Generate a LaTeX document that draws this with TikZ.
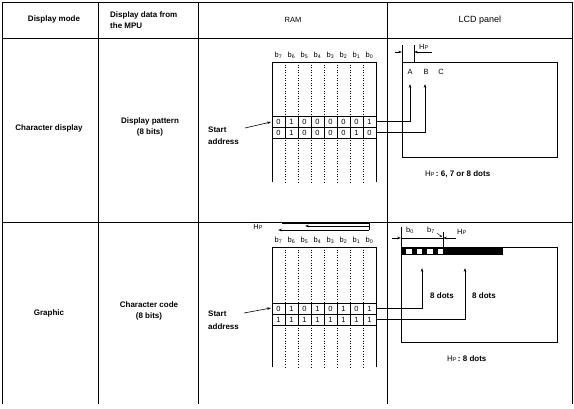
\documentclass[tikz,border=0pt]{standalone}
\usepackage{fontspec}
\setmainfont{Liberation Sans}
\usetikzlibrary{arrows.meta}
\newcommand{\hpsym}{H{\fontsize{5.5}{6}\selectfont P}}
\begin{document}
\begin{tikzpicture}[x=1pt,y=-1pt,
  tline/.style={line width=0.8pt},
  thinl/.style={line width=0.6pt},
  dotl/.style={line width=0.45pt, dash pattern=on 1pt off 1.6pt},
  lbl/.style={font=\fontsize{8}{11}\selectfont\bfseries, inner sep=0pt},
  reg/.style={font=\fontsize{7.5}{9}\selectfont, inner sep=0pt},
  dig/.style={font=\fontsize{7.5}{8}\selectfont, inner sep=0pt},
  arr/.style={-{Stealth[length=4pt,width=2.6pt]}, line width=0.6pt}]
\useasboundingbox (0,0) rectangle (574,408);
% table
\draw[tline] (2,2) -- (572,2);
\draw[tline] (2,38) -- (572,38);
\draw[tline] (2,222) -- (572,222);
\foreach \x in {2,98,198,387,572} \draw[tline] (\x,2) -- (\x,404);
% headers
\node[lbl] (h1) at (54,19) {Display mode};
\node[lbl, anchor=west, align=left] (h2) at (110,20) {Display data from\\the MPU};
\node[reg] (h3) at (293,20) {RAM};
\node[font=\fontsize{9}{11}\selectfont, inner sep=0pt] (h4) at (480,20) {LCD panel};
% column 1 and 2
\node[lbl] (m1) at (49,128) {Character display};
\node[lbl, align=center] (m2) at (150,127) {Display pattern\\(8 bits)};
\node[lbl] (g1) at (49,313) {Graphic};
\node[lbl, align=center] (g2) at (149,311) {Character code\\(8 bits)};
% Start address
\node[lbl, anchor=west, align=left, font=\fontsize{8}{12}\selectfont\bfseries] (s1) at (208,136) {Start\\address};
\node[lbl, anchor=west, align=left, font=\fontsize{8}{13}\selectfont\bfseries] (s2) at (208,320) {Start\\address};
% RAM grids
\foreach \top/\bot/\ra/\lab in {62/182/116/55, 247/367/303/240} {
  \draw[thinl] (272,\top) -- (376,\top);
  \draw[thinl] (272,\top) -- (272,\bot);
  \draw[thinl] (376,\top) -- (376,\bot);
  \foreach \k in {1,...,7} \draw[dotl] ({272+13*\k},\top) -- ({272+13*\k},\bot);
  \fill[white] (272,\ra) rectangle (376,{\ra+22});
  \draw[thinl] (272,\ra) rectangle (376,{\ra+22});
  \draw[thinl] (272,{\ra+11}) -- (376,{\ra+11});
  \foreach \k in {1,...,7} \draw[thinl] ({272+13*\k},\ra) -- ({272+13*\k},{\ra+22});
  \foreach \b [count=\i from 0] in {7,...,0}
    \node[reg] at ({272+13*\i+6.5},\lab) {b\textsubscript{\b}};
}
\foreach \d [count=\i from 0] in {0,1,0,0,0,0,0,1} \node[dig] at ({272+13*\i+6.5},121.5) {\d};
\foreach \d [count=\i from 0] in {0,1,0,0,0,0,1,0} \node[dig] at ({272+13*\i+6.5},132.5) {\d};
\foreach \d [count=\i from 0] in {0,1,0,1,0,1,0,1} \node[dig] at ({272+13*\i+6.5},308.5) {\d};
\foreach \d [count=\i from 0] in {1,1,1,1,1,1,1,1} \node[dig] at ({272+13*\i+6.5},319.5) {\d};
% start arrows
\coordinate (s1t) at (271,122);
\coordinate (s2t) at (271,308);
\draw[arr] (245,128) -- (s1t);
\draw[arr] (244,313) -- (s2t);
% LCD panels
\draw[thinl] (402,62) rectangle (557,157);
\draw[thinl] (401,247) rectangle (557,342);
\node[reg] (A) at (410,72) {A};
\node[reg] (B) at (426,72) {B};
\node[reg] (C) at (441,72) {C};
% connectors row 1
\coordinate (r1a) at (376,121.5);
\coordinate (r1b) at (376,132.5);
\coordinate (At) at (410,84);
\coordinate (Bt) at (425,84);
\draw[arr] (r1a) -| (At);
\draw[arr] (r1b) -| (Bt);
% Hp dimension row 1
\draw[thinl] (402,45) -- (402,62);
\draw[thinl] (414,45) -- (414,62);
\draw[arr] (395,52) -- (402,52);
\draw[arr] (432,52) -- (414,52);
\node[reg, anchor=south west] (hp1) at (419,50) {\hpsym};
\node[lbl, anchor=west] (hpt1) at (425,174) {{\mdseries\hpsym}\,:\ 6, 7 or 8 dots};
% Graphic row: Hp shift arrows
\node[reg] (hp2) at (258,227) {\hpsym};
\draw[thinl] (282,223) -- (369,223) -- (369,230);
\draw[arr] (369,230) -- (278,230);
\draw[arr] (369,226) -- (305,226);
% black bar
\fill (401,247) rectangle (503,255);
\foreach \k in {1,3,5,7} \fill[white] ({401+5.25*\k},248.6) rectangle ({401+5.25*(\k+1)},253.6);
% dimension row 2
\draw[thinl] (401,227) -- (401,247);
\draw[thinl] (443,232) -- (443,247);
\draw[arr] (392,238) -- (401,238);
\draw[thinl] (401,238) -- (443,238);
\draw[arr] (456,238) -- (443,238);
\node[reg] (b0l) at (410,230) {b\textsubscript{0}};
\node[reg] (b7l) at (431,230) {b\textsubscript{7}};
\draw[-{Stealth[length=2.5pt,width=2pt]}, line width=0.4pt] (437,233) -- (442,237);
\node[reg, anchor=west] (hp3) at (457,232) {\hpsym};
% connectors row 2
\coordinate (r2a) at (376,308.5);
\coordinate (r2b) at (376,319.5);
\coordinate (t1) at (422,268);
\coordinate (t2) at (465,268);
\draw[arr] (r2a) -| (t1);
\draw[arr] (r2b) -| (t2);
\node[lbl, anchor=west] (d1) at (430,296) {8 dots};
\node[lbl, anchor=west] (d2) at (472,296) {8 dots};
\node[lbl, anchor=west] (hpt2) at (447,359) {{\mdseries\hpsym}\,:\ 8 dots};
\end{tikzpicture}
\end{document}
